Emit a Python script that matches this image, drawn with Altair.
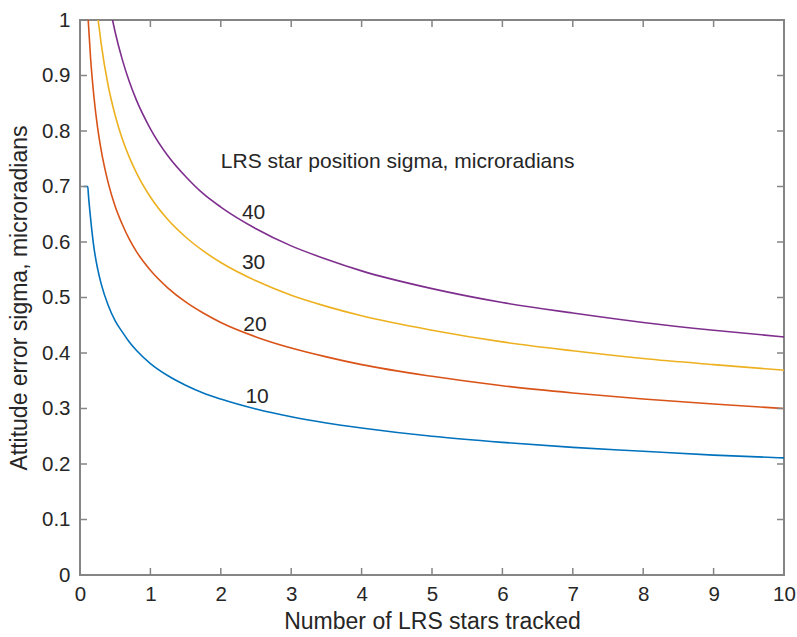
import altair as alt
import pandas as pd

# ---- data ----
x10 = [0.05, 0.11, 0.12, 0.15, 0.2, 0.25, 0.3, 0.4, 0.5, 0.6, 0.7, 0.8, 1.0, 1.25, 1.5, 1.75, 2.0, 2.5, 3.0, 3.5, 4.0, 5.0, 6.0, 7.0, 8.0, 9.0, 10.0]
y10 = [0.700, 0.700, 0.684, 0.643, 0.588, 0.552, 0.525, 0.486, 0.458, 0.438, 0.420, 0.405, 0.381, 0.359, 0.342, 0.328, 0.317, 0.299, 0.285, 0.274, 0.265, 0.250, 0.239, 0.230, 0.223, 0.216, 0.211]

x20 = [0.117, 0.12, 0.15, 0.2, 0.25, 0.3, 0.4, 0.5, 0.6, 0.7, 0.8, 1.0, 1.25, 1.5, 1.75, 2.0, 2.5, 3.0, 3.5, 4.0, 5.0, 6.0, 7.0, 8.0, 9.0, 10.0]
y20 = [1.000, 0.993, 0.932, 0.859, 0.806, 0.766, 0.707, 0.664, 0.632, 0.605, 0.583, 0.549, 0.517, 0.492, 0.472, 0.455, 0.429, 0.409, 0.393, 0.379, 0.358, 0.341, 0.328, 0.317, 0.308, 0.300]

x30 = [0.258, 0.3, 0.4, 0.5, 0.6, 0.7, 0.8, 1.0, 1.25, 1.5, 1.75, 2.0, 2.5, 3.0, 3.5, 4.0, 5.0, 6.0, 7.0, 8.0, 9.0, 10.0]
y30 = [1.000, 0.958, 0.882, 0.828, 0.786, 0.753, 0.725, 0.681, 0.640, 0.609, 0.584, 0.563, 0.530, 0.504, 0.484, 0.467, 0.441, 0.420, 0.404, 0.390, 0.379, 0.369]

x40 = [0.462, 0.5, 0.6, 0.7, 0.8, 1.0, 1.25, 1.5, 1.75, 2.0, 2.5, 3.0, 3.5, 4.0, 5.0, 6.0, 7.0, 8.0, 9.0, 10.0]
y40 = [1.000, 0.978, 0.929, 0.889, 0.856, 0.804, 0.755, 0.718, 0.687, 0.663, 0.624, 0.593, 0.569, 0.548, 0.516, 0.491, 0.472, 0.455, 0.441, 0.429]

series_names = ["10", "20", "30", "40"]
series_colors = ["#0072BD", "#D95319", "#EDB120", "#7E2F8E"]

label_text = ["10", "20", "30", "40"]
label_x = [2.35, 2.32, 2.30, 2.30]
label_y = [0.320, 0.451, 0.562, 0.652]

note_text = ["LRS star position sigma, microradians"]
note_x = [2.0]
note_y = [0.745]

x_ticks = [0, 1, 2, 3, 4, 5, 6, 7, 8, 9, 10]
y_ticks = [0, 0.1, 0.2, 0.3, 0.4, 0.5, 0.6, 0.7, 0.8, 0.9, 1.0]

# ---- tables ----
rows = []
for name, xs, ys in zip(series_names, [x10, x20, x30, x40], [y10, y20, y30, y40]):
    for i, (a, b) in enumerate(zip(xs, ys)):
        rows.append({"s": name, "x": a, "y": b, "o": i})
df = pd.DataFrame(rows)
lab = pd.DataFrame({"t": label_text, "x": label_x, "y": label_y})
note = pd.DataFrame({"t": note_text, "x": note_x, "y": note_y})
xt = pd.DataFrame({"v": x_ticks})
yt = pd.DataFrame({"v": y_ticks})

W, H = 704, 555
FONT = "Liberation Sans"
TXT = "#262626"
AX = "#858585"
LFS = 20.5
TFS = 23

xscale = alt.Scale(domain=[0, 10], nice=False, zero=False)
yscale = alt.Scale(domain=[0, 1], nice=False, zero=False)

xaxis = alt.Axis(values=x_ticks, format="d", grid=False, domain=False, ticks=False, tickSize=0,
                 labelFlush=False, labelPadding=9, labelFontSize=LFS, labelColor=TXT, labelFont=FONT,
                 title="Number of LRS stars tracked", titleFont=FONT, titleFontSize=TFS,
                 titleFontWeight="normal", titleColor=TXT, titleBaseline="alphabetic", titleY=53)
yaxis = alt.Axis(values=y_ticks, format=".1~f", grid=False, domain=False, ticks=False, tickSize=0,
                 labelFlush=False, labelPadding=10, labelFontSize=LFS, labelColor=TXT, labelFont=FONT,
                 title="Attitude error sigma, microradians", titleFont=FONT, titleFontSize=TFS,
                 titleFontWeight="normal", titleColor=TXT, titleBaseline="alphabetic", titleX=-54)

lines = alt.Chart(df).mark_line(strokeWidth=1.6, interpolate="monotone", clip=True).encode(
    x=alt.X("x:Q", scale=xscale, axis=xaxis),
    y=alt.Y("y:Q", scale=yscale, axis=yaxis),
    color=alt.Color("s:N", scale=alt.Scale(domain=series_names, range=series_colors), legend=None),
    order="o:Q",
)

TL = 7
tb = alt.Chart(xt).mark_rule(color=AX, strokeWidth=1.5).encode(
    x=alt.X("v:Q", scale=xscale), y=alt.value(H), y2=alt.value(H - TL))
tt = alt.Chart(xt).mark_rule(color=AX, strokeWidth=1.5).encode(
    x=alt.X("v:Q", scale=xscale), y=alt.value(0), y2=alt.value(TL))
tl = alt.Chart(yt).mark_rule(color=AX, strokeWidth=1.5).encode(
    y=alt.Y("v:Q", scale=yscale), x=alt.value(0), x2=alt.value(TL))
tr = alt.Chart(yt).mark_rule(color=AX, strokeWidth=1.5).encode(
    y=alt.Y("v:Q", scale=yscale), x=alt.value(W), x2=alt.value(W - TL))

labels = alt.Chart(lab).mark_text(align="left", baseline="middle", font=FONT, fontSize=21, color=TXT).encode(
    x=alt.X("x:Q", scale=xscale), y=alt.Y("y:Q", scale=yscale), text="t:N")
notes = alt.Chart(note).mark_text(align="left", baseline="middle", font=FONT, fontSize=21, color=TXT).encode(
    x=alt.X("x:Q", scale=xscale), y=alt.Y("y:Q", scale=yscale), text="t:N")

chart = alt.layer(lines, tb, tt, tl, tr, labels, notes).properties(
    width=W, height=H,
    autosize=alt.AutoSizeParams(type="none"),
    padding={"left": 80, "top": 20, "right": 13, "bottom": 62},
    background="white",
).configure_view(stroke=AX, strokeWidth=2)

chart.save("out.html", embed_options={"renderer": "svg", "actions": False})
